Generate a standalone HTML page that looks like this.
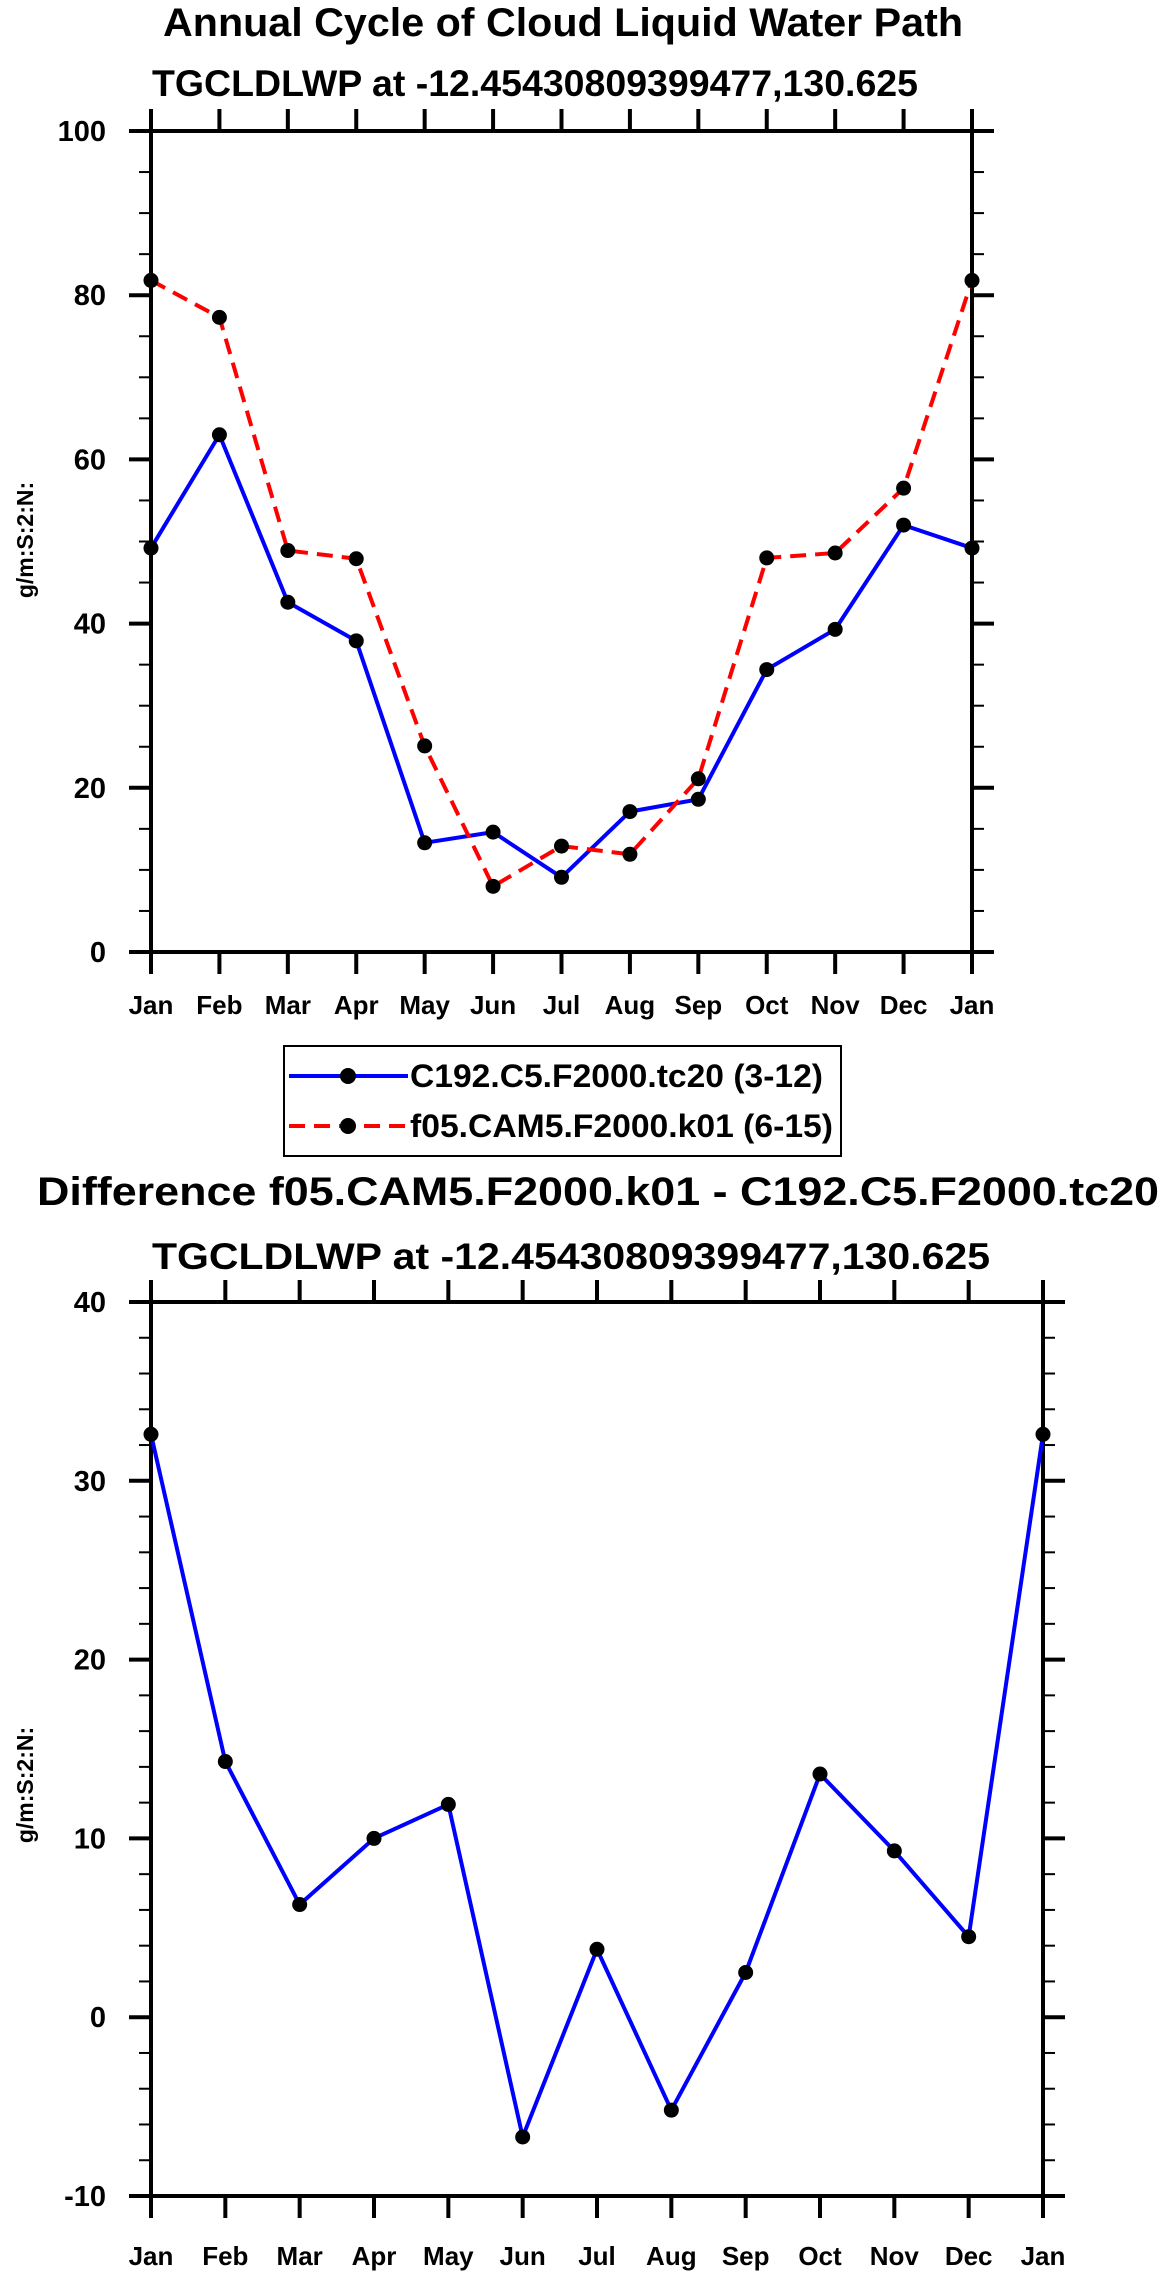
<!DOCTYPE html>
<html><head><meta charset="utf-8"><style>
html,body{margin:0;padding:0;background:#fff}
svg{display:block;font-family:"Liberation Sans",Arial,sans-serif;font-weight:bold}
</style></head><body>
<svg id="root" width="1161" height="2275" viewBox="0 0 1161 2275" xmlns="http://www.w3.org/2000/svg">
<text x="163" y="36" font-size="40" textLength="800" lengthAdjust="spacingAndGlyphs">Annual Cycle of Cloud Liquid Water Path</text>
<text x="152" y="96" font-size="37" textLength="766" lengthAdjust="spacingAndGlyphs">TGCLDLWP at -12.45430809399477,130.625</text>
<text x="37" y="1205" font-size="40" textLength="1122" lengthAdjust="spacingAndGlyphs">Difference f05.CAM5.F2000.k01 - C192.C5.F2000.tc20</text>
<text x="152" y="1269" font-size="37" textLength="838" lengthAdjust="spacingAndGlyphs">TGCLDLWP at -12.45430809399477,130.625</text>
<g id="top"></g>
<g id="bot"></g>
<g>
<rect x="284" y="1046" width="557" height="110" fill="none" stroke="#000" stroke-width="2"/>
<g>
<line x1="289" y1="1076" x2="408" y2="1076" stroke="#0000ff" stroke-width="4"/>
<circle cx="348" cy="1076" r="8" fill="#000"/>
<text x="410" y="1087" font-size="32" textLength="413" lengthAdjust="spacingAndGlyphs">C192.C5.F2000.tc20 (3-12)</text>
</g>
<g>
<line x1="289" y1="1126" x2="408" y2="1126" stroke="#ff0000" stroke-width="4" stroke-dasharray="16,9"/>
<circle cx="348" cy="1126" r="8" fill="#000"/>
<text x="410" y="1137" font-size="32" textLength="423" lengthAdjust="spacingAndGlyphs">f05.CAM5.F2000.k01 (6-15)</text>
</g>
</g>
</svg>
<script>
const months = ["Jan","Feb","Mar","Apr","May","Jun","Jul","Aug","Sep","Oct","Nov","Dec","Jan"];
const c192Values = [49.2,63.0,42.6,37.9,13.3,14.6,9.1,17.1,18.6,34.4,39.3,52.0,49.2];
const f05Values = [81.8,77.3,48.9,47.9,25.1,8.0,12.9,11.9,21.1,48.0,48.6,56.5,81.8];
const diffValues = [32.6,14.3,6.3,10.0,11.9,-6.7,3.8,-5.2,2.5,13.6,9.3,4.5,32.6];
const topTicks = [0,20,40,60,80,100];
const botTicks = [-10,0,10,20,30,40];

const NS="http://www.w3.org/2000/svg";
function mk(parent,tag,attrs,text){const e=document.createElementNS(NS,tag);for(const k in attrs)e.setAttribute(k,attrs[k]);if(text!==undefined)e.textContent=text;parent.appendChild(e);return e;}

function chart(g,L,R,T,B,ymin,ymax,ticks,minorStep,series,labelBase,ytitleY){
  const xs=i=>L+(R-L)*i/(months.length-1);
  const ys=v=>B-(B-T)*(v-ymin)/(ymax-ymin);
  for(let v=ymin;v<=ymax+1e-9;v+=minorStep){
    const y=ys(v);
    const m1=mk(g,"line",{x1:L-12,x2:L,y1:y,y2:y,stroke:"#000","stroke-width":2});
    
    
    const m2=mk(g,"line",{x1:R,x2:R+12,y1:y,y2:y,stroke:"#000","stroke-width":2});
    
    
  }
  ticks.forEach(v=>{
    const y=ys(v);
    const t1=mk(g,"line",{x1:L-22,x2:L,y1:y,y2:y,stroke:"#000","stroke-width":4});
    
    
    const t2=mk(g,"line",{x1:R,x2:R+22,y1:y,y2:y,stroke:"#000","stroke-width":4});
    
    
    const lb=mk(g,"text",{x:L-45,y:y+10,"font-size":29,"text-anchor":"end"},String(v));
    
    
  });
  months.forEach((m,i)=>{
    const x=xs(i);
    const a=mk(g,"line",{x1:x,x2:x,y1:B,y2:B+22,stroke:"#000","stroke-width":4});
    
    
    const b=mk(g,"line",{x1:x,x2:x,y1:T-22,y2:T,stroke:"#000","stroke-width":4});
    
    
    const lb=mk(g,"text",{x:x,y:labelBase,"font-size":26,"text-anchor":"middle"},m);
    
    
  });
  const fr=mk(g,"rect",{x:L,y:T,width:R-L,height:B-T,fill:"none",stroke:"#000","stroke-width":4});
  
  
  const yt=mk(g,"text",{x:0,y:0,"font-size":23,"text-anchor":"middle",transform:`translate(33,${ytitleY}) rotate(-90)`},"g/m:S:2:N:");
  
  
  series.forEach(s=>{
    const pts=s.vals.map((v,i)=>xs(i)+","+ys(v)).join(" ");
    const pl=mk(g,"polyline",{points:pts,fill:"none",stroke:s.color,"stroke-width":4,"stroke-dasharray":s.dash||"none"});
    
    
    s.vals.forEach((v,i)=>{
      const c=mk(g,"circle",{cx:xs(i),cy:ys(v),r:7.5,fill:"#000"});
      
      
    });
  });
}
chart(document.getElementById("top"),151,972,131,952,0,100,topTicks,5,
  [{vals:c192Values,color:"#0000ff",name:"c192"},{vals:f05Values,color:"#ff0000",dash:"16,9",name:"f05"}],1014,540);
chart(document.getElementById("bot"),151,1043,1302,2196,-10,40,botTicks,2,
  [{vals:diffValues,color:"#0000ff",name:"difference"}],2265,1785);
</script>
</body></html>
